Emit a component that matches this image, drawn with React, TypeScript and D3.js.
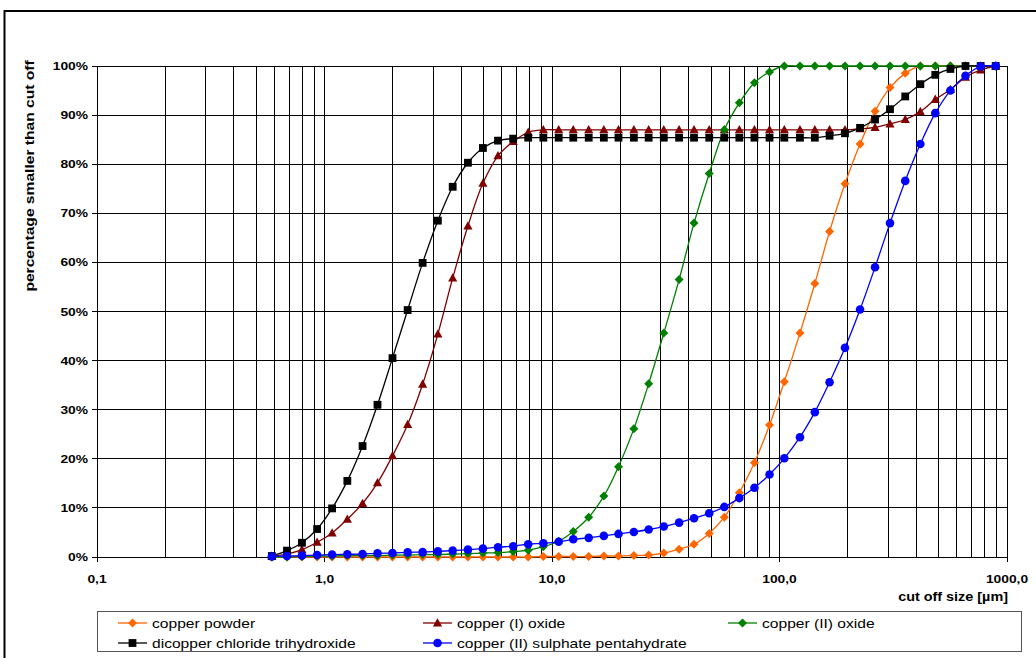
import React from "react";
import * as d3 from "d3";

// cut off sizes in µm (shared by all series)
const sizes = [
  0.587, 0.684, 0.796, 0.928, 1.08, 1.26, 1.47, 1.71, 1.99, 2.32,
  2.7, 3.15, 3.66, 4.27, 4.97, 5.79, 6.75, 7.86, 9.16, 10.7,
  12.4, 14.5, 16.9, 19.6, 22.9, 26.6, 31.0, 36.2, 42.1, 49.1,
  57.2, 66.6, 77.6, 90.4, 105, 123, 143, 166, 194, 226,
  263, 306, 357, 416, 484, 564, 657, 766, 892,
];

const copperPowder = [
  0, 0, 0, 0, 0, 0, 0, 0, 0, 0,
  0, 0, 0, 0, 0, 0, 0, 0, 0.1, 0.1,
  0.1, 0.1, 0.2, 0.2, 0.3, 0.4, 0.8, 1.6, 2.6, 4.8,
  8.1, 13.1, 19.2, 26.9, 35.7, 45.6, 55.7, 66.3, 76.0, 84.1,
  90.8, 95.6, 98.5, 100, 100, 100, 100, 100, 100,
];

const copperIOxide = [
  0.2, 0.6, 1.5, 3.0, 4.9, 7.7, 10.9, 15.1, 20.6, 27.0,
  35.2, 45.4, 56.8, 67.4, 76.1, 81.7, 84.6, 86.5, 87.0, 87.0,
  87.0, 87.0, 87.0, 87.0, 87.0, 87.0, 87.0, 87.0, 87.0, 87.0,
  87.0, 87.0, 87.0, 87.0, 87.0, 87.0, 87.0, 87.0, 87.0, 87.2,
  87.5, 88.2, 89.1, 90.7, 93.2, 95.2, 97.7, 99.2, 100,
];

const copperIIOxide = [
  0, 0, 0.1, 0.2, 0.2, 0.3, 0.3, 0.3, 0.4, 0.4,
  0.5, 0.5, 0.6, 0.7, 0.8, 0.9, 1.1, 1.4, 2.1, 3.2,
  5.2, 8.1, 12.4, 18.4, 26.1, 35.3, 45.6, 56.5, 68.0, 78.1,
  87.0, 92.5, 96.6, 98.8, 100, 100, 100, 100, 100, 100,
  100, 100, 100, 100, 100, 100, 100, 100, 100,
];

const dicopperChloride = [
  0.2, 1.3, 2.9, 5.7, 9.9, 15.5, 22.6, 31.0, 40.5, 50.3,
  59.9, 68.5, 75.4, 80.3, 83.3, 84.8, 85.2, 85.4, 85.4, 85.4,
  85.4, 85.4, 85.4, 85.4, 85.4, 85.4, 85.4, 85.4, 85.4, 85.4,
  85.4, 85.4, 85.4, 85.4, 85.4, 85.4, 85.4, 85.8, 86.3, 87.4,
  89.1, 91.2, 93.8, 96.3, 98.2, 99.4, 100, 100, 100,
];

const copperSulphate = [
  0.1, 0.2, 0.3, 0.4, 0.5, 0.55, 0.6, 0.75, 0.8, 0.95,
  1.0, 1.15, 1.3, 1.5, 1.7, 2.0, 2.2, 2.6, 2.8, 3.1,
  3.6, 3.9, 4.3, 4.7, 5.1, 5.6, 6.2, 7.0, 7.9, 8.9,
  10.2, 12.0, 14.1, 16.8, 20.1, 24.4, 29.5, 35.6, 42.6, 50.4,
  59.0, 68.0, 76.6, 84.1, 90.4, 95.0, 98.0, 99.9, 100,
];

const seriesNames = [
  "copper powder",
  "copper (I) oxide",
  "copper (II) oxide",
  "dicopper chloride trihydroxide",
  "copper (II) sulphate pentahydrate",
];
const seriesValues = [copperPowder, copperIOxide, copperIIOxide, dicopperChloride, copperSulphate];
const seriesColors = ["#ff6600", "#800000", "#008000", "#000000", "#0000ff"];
const seriesMarkers = ["diamond", "triangle", "diamond", "square", "circle"];

const xTickValues = [0.1, 1, 10, 100, 1000];
const xTickLabels = ["0,1", "1,0", "10,0", "100,0", "1000,0"];
const yTickValues = [0, 10, 20, 30, 40, 50, 60, 70, 80, 90, 100];

const W = 1036;
const H = 658;
const plotLeft = 97;
const plotRight = 1007;
const plotTop = 66;
const plotBottom = 557;
const SX = 1.2; // text is drawn a bit wider than Arial

function Marker({ kind, x, y, color }: { kind: string; x: number; y: number; color: string }) {
  if (kind === "square") return <rect x={x - 3.9} y={y - 3.9} width={7.8} height={7.8} fill={color} />;
  if (kind === "circle") return <circle cx={x} cy={y} r={4.3} fill={color} />;
  if (kind === "triangle")
    return <path d={`M${x},${y - 4.8}L${x + 4.6},${y + 3.5}L${x - 4.6},${y + 3.5}Z`} fill={color} />;
  return <path d={`M${x},${y - 4.5}L${x + 4.5},${y}L${x},${y + 4.5}L${x - 4.5},${y}Z`} fill={color} />;
}

function Label(props: {
  x: number; y: number; size: number; bold?: boolean; anchor?: string; rotate?: boolean; children: any;
}) {
  const { x, y, size, bold, anchor, rotate, children } = props;
  return (
    <text
      transform={`translate(${x},${y})${rotate ? " rotate(-90)" : ""} scale(${SX},1)`}
      fontFamily="'Liberation Sans', Arial, sans-serif"
      fontSize={size}
      fontWeight={bold ? "bold" : "normal"}
      textAnchor={anchor || "start"}
      fill="#000"
    >
      {children}
    </text>
  );
}

export default function App() {
  const x = d3.scaleLog().domain([0.1, 1000]).range([plotLeft, plotRight]);
  const y = d3.scaleLinear().domain([0, 100]).range([plotBottom, plotTop]);

  const minorGrid: number[] = [];
  for (const d of [0.1, 1, 10, 100]) for (let m = 1; m <= 9; m++) minorGrid.push(m * d);
  minorGrid.push(1000);

  const lineGen = d3
    .line<number>()
    .x((_, i) => x(sizes[i]))
    .y((v) => y(v))
    .curve(d3.curveCatmullRom.alpha(0.5));

  const legendCols = [118, 423, 728];
  const legendRows = [623, 643];

  return (
    <svg
      width={W}
      height={H}
      style={{ position: "absolute", left: 0, top: 0, background: "#fff" }}
    >
      <rect x={0} y={0} width={W} height={H} fill="#fff" />
      {/* outer chart border */}
      <path d={`M4.5,${H + 5}V11H${W + 5}`} fill="none" stroke="#000" strokeWidth={2} />

      {/* grid */}
      <g shapeRendering="crispEdges" stroke="#000" strokeWidth={1}>
        {minorGrid.map((v, i) => (
          <line key={"v" + i} x1={x(v)} x2={x(v)} y1={plotTop} y2={plotBottom} />
        ))}
        {yTickValues.map((v) => (
          <line key={"h" + v} x1={plotLeft} x2={plotRight} y1={y(v)} y2={y(v)} />
        ))}
        {yTickValues.map((v) => (
          <line key={"yt" + v} x1={plotLeft - 5} x2={plotLeft} y1={y(v)} y2={y(v)} />
        ))}
        {xTickValues.map((v) => (
          <line key={"xt" + v} x1={x(v)} x2={x(v)} y1={plotBottom} y2={plotBottom + 5} />
        ))}
      </g>

      {/* tick labels */}
      {yTickValues.map((v) => (
        <Label key={"yl" + v} x={88} y={y(v) + 4} size={11.5} bold anchor="end">
          {v + "%"}
        </Label>
      ))}
      {xTickValues.map((v, i) => (
        <Label key={"xl" + v} x={x(v)} y={583} size={11.5} bold anchor="middle">
          {xTickLabels[i]}
        </Label>
      ))}

      {/* axis titles */}
      <Label x={1008} y={601} size={12} bold anchor="end">
        cut off size [µm]
      </Label>
      <Label x={34} y={176} size={13} bold anchor="middle" rotate>
        percentage smaller than cut off
      </Label>

      {/* series */}
      {seriesValues.map((vals, s) => (
        <g key={"s" + s}>
          <path d={lineGen(vals) || ""} fill="none" stroke={seriesColors[s]} strokeWidth={1.3} />
          {vals.map((v, i) => (
            <Marker key={i} kind={seriesMarkers[s]} x={x(sizes[i])} y={y(v)} color={seriesColors[s]} />
          ))}
        </g>
      ))}

      {/* legend */}
      <rect x={97.5} y={611.5} width={924} height={40} fill="#fff" stroke="#555" strokeWidth={1} />
      {seriesNames.map((name, s) => {
        const cx = legendCols[s % 3];
        const cy = legendRows[Math.floor(s / 3)];
        return (
          <g key={"lg" + s}>
            <line x1={cx} x2={cx + 29} y1={cy} y2={cy} stroke={seriesColors[s]} strokeWidth={1.3} />
            <Marker kind={seriesMarkers[s]} x={cx + 14.5} y={cy} color={seriesColors[s]} />
            <Label x={cx + 34} y={cy + 4.5} size={13}>
              {name}
            </Label>
          </g>
        );
      })}
    </svg>
  );
}
